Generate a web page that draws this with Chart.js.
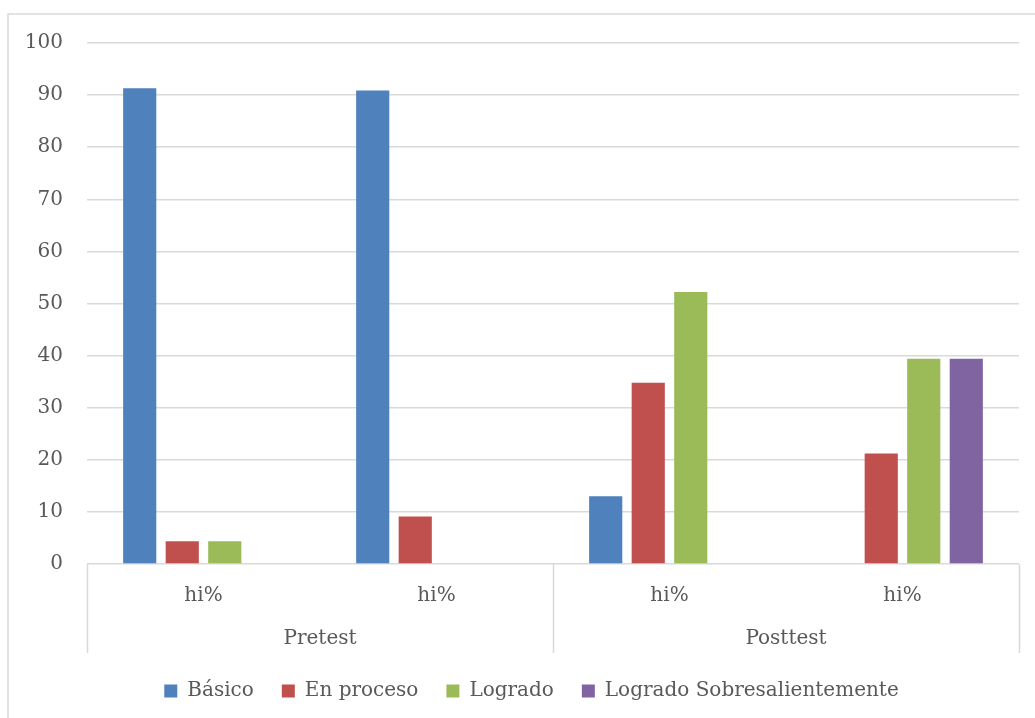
<!DOCTYPE html>
<html>
<head>
<meta charset="utf-8">
<script src="https://cdn.jsdelivr.net/npm/chart.js@4/dist/chart.umd.min.js"></script>
<style>
html,body{margin:0;padding:0;background:#fff;}
#wrap{position:relative;width:1035px;height:718px;}
canvas{display:block;}
</style>
</head>
<body>
<div id="wrap"><canvas id="c" width="1035" height="718"></canvas></div>
<script>
const categories = ['hi%', 'hi%', 'hi%', 'hi%'];
const groups = ['Pretest', 'Posttest'];
const seriesNames = ['Básico', 'En proceso', 'Logrado', 'Logrado Sobresalientemente'];
const basico = [91.3, 90.9, 13.0, 0];
const enProceso = [4.35, 9.1, 34.8, 21.2];
const logrado = [4.35, 0, 52.2, 39.4];
const sobresaliente = [0, 0, 0, 39.4];
const yTicks = [0, 10, 20, 30, 40, 50, 60, 70, 80, 90, 100];
const colors = ['#4F81BD', '#C0504D', '#9BBB59', '#8064A2'];

const FONT = 'DejaVu Serif';
const TEXT = '#595959';
const GRID = '#D9D9D9';

const frame = {
  id: 'frame',
  afterLayout(chart) {
    if (chart.legend) {
      chart.legend.left += 22;
      chart.legend.right += 22;
    }
  },
  beforeDraw(chart) {
    const ctx = chart.ctx;
    ctx.save();
    ctx.strokeStyle = GRID;
    ctx.lineWidth = 1.5;
    ctx.strokeRect(8, 14, 1040, 720);
    ctx.restore();
  },
  afterDraw(chart) {
    const ctx = chart.ctx;
    const area = chart.chartArea;
    const n = categories.length;
    const per = n / groups.length;
    ctx.save();
    ctx.strokeStyle = GRID;
    ctx.lineWidth = 1.5;
    const step = (area.right - area.left) / n;
    for (let g = 0; g <= groups.length; g++) {
      const px = Math.round(area.left + g * per * step) + 0.5;
      ctx.beginPath();
      ctx.moveTo(px, area.bottom);
      ctx.lineTo(px, area.bottom + 89);
      ctx.stroke();
    }
    ctx.fillStyle = TEXT;
    ctx.font = '20px "' + FONT + '"';
    ctx.textAlign = 'center';
    ctx.textBaseline = 'middle';
    for (let g = 0; g < groups.length; g++) {
      const cx = area.left + (g * per + per / 2) * step;
      ctx.fillText(groups[g], cx, area.bottom + 75);
    }
    ctx.restore();
  }
};

const datasets = [basico, enProceso, logrado, sobresaliente].map((d, i) => ({
  label: seriesNames[i],
  data: d,
  backgroundColor: colors[i],
  borderWidth: 0,
  categoryPercentage: 0.73,
  barPercentage: 0.78
}));

new Chart(document.getElementById('c'), {
  type: 'bar',
  data: { labels: categories, datasets },
  plugins: [frame],
  options: {
    responsive: false,
    animation: false,
    layout: { padding: { left: 0, top: 43, right: 16, bottom: 7 } },
    plugins: {
      tooltip: { enabled: false },
      legend: {
        position: 'bottom',
        labels: {
          font: { family: FONT, size: 20 },
          color: TEXT,
          boxWidth: 13,
          boxHeight: 13,
          padding: 28
        }
      }
    },
    scales: {
      x: {
        grid: { display: false, drawTicks: false },
        border: { display: false },
        ticks: { color: TEXT, font: { family: FONT, size: 20 }, padding: 20, maxRotation: 0 },
        afterFit(s) { s.height = 89; }
      },
      y: {
        min: 0, max: 100,
        afterBuildTicks(s) { s.ticks = yTicks.map(v => ({ value: v })); },
        grid: { color: GRID, lineWidth: 1.5, drawTicks: false },
        border: { display: false },
        ticks: { color: TEXT, font: { family: FONT, size: 20 }, padding: 24 },
        afterFit(s) { s.width = 87; }
      }
    }
  }
});
</script>
</body>
</html>
